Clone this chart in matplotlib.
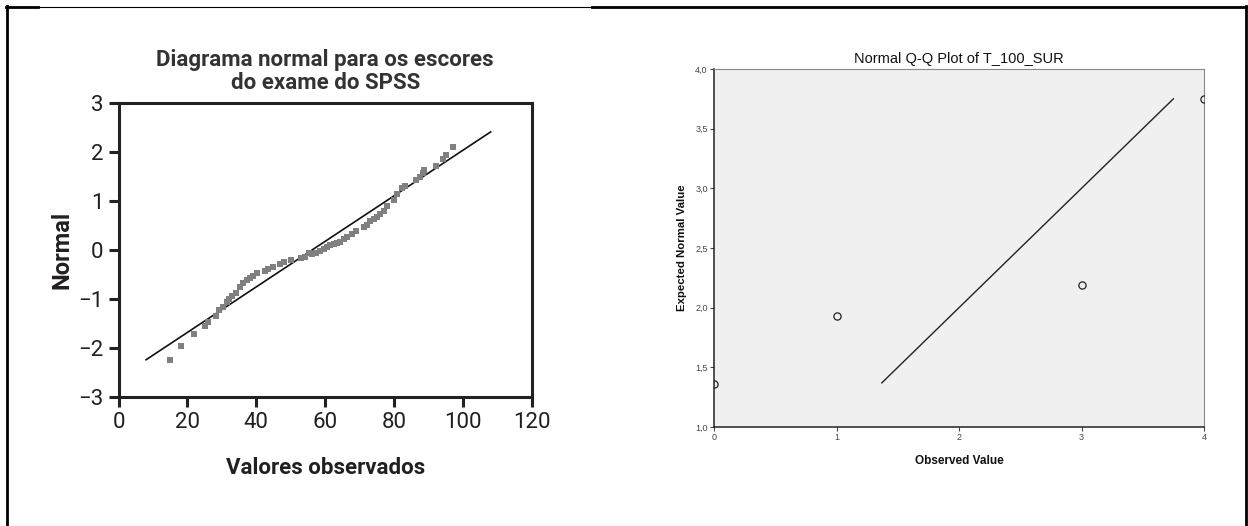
import matplotlib
matplotlib.use("Agg")
import matplotlib.pyplot as plt
from matplotlib.lines import Line2D

# ---------------- data: left panel (textbook normal plot) ----------------
obs_left = [14.9, 18.0, 22.0, 25.1, 26.0, 28.3, 29.2, 30.2, 31.4, 32.1, 32.9, 34.1,
            35.2, 36.2, 37.2, 38.1, 39.1, 40.1, 42.6, 43.5, 44.7, 47.0, 48.0, 50.2,
            53.1, 54.1, 55.2, 56.2, 57.2, 58.4, 59.6, 60.5, 61.5, 62.5, 63.4, 64.4,
            65.4, 66.3, 67.9, 69.0, 71.2, 72.1, 73.1, 74.1, 75.0, 76.0, 77.0, 77.9,
            79.9, 80.8, 82.2, 83.1, 86.2, 87.4, 88.3, 88.8, 92.0, 94.1, 94.9, 97.0]
norm_left = [-2.24, -1.96, -1.71, -1.55, -1.47, -1.35, -1.23, -1.16, -1.06, -0.99, -0.93, -0.87,
             -0.75, -0.67, -0.62, -0.58, -0.53, -0.46, -0.42, -0.38, -0.34, -0.28, -0.24, -0.21,
             -0.17, -0.14, -0.07, -0.09, -0.07, -0.02, 0.03, 0.06, 0.10, 0.13, 0.15, 0.17,
             0.22, 0.27, 0.32, 0.39, 0.46, 0.52, 0.59, 0.64, 0.68, 0.74, 0.80, 0.90,
             1.02, 1.15, 1.26, 1.30, 1.42, 1.50, 1.58, 1.64, 1.71, 1.85, 1.94, 2.11]
line_left_x = [8, 108]
line_left_y = [-2.24, 2.41]
xticks_left = [0, 20, 40, 60, 80, 100, 120]
yticks_left = [-3, -2, -1, 0, 1, 2, 3]
ytick_labels_left = ["\u22123", "\u22122", "\u22121", "0", "1", "2", "3"]

# ---------------- data: right panel (SPSS Q-Q plot) ----------------
obs_right = [0, 1, 3, 4]
exp_right = [1.36, 1.93, 2.19, 3.75]
line_right = [1.37, 3.75]
xticks_right = [0, 1, 2, 3, 4]
yticks_right = [1.0, 1.5, 2.0, 2.5, 3.0, 3.5, 4.0]
ytick_labels_right = ["1,0", "1,5", "2,0", "2,5", "3,0", "3,5", "4,0"]

W, H = 1248, 526
fig = plt.figure(figsize=(W / 100, H / 100), dpi=100)
fig.patch.set_facecolor("white")

def fx(px):
    return px / W

def fy(py):
    return 1 - py / H

narrow = ["Liberation Sans Narrow", "Roboto", "DejaVu Sans"]
arial = ["Liberation Sans", "DejaVu Sans"]
dark = "#231f20"

# ---------------- left panel ----------------
axL = fig.add_axes([fx(118.5), fy(397), fx(532) - fx(118.5), fy(103) - fy(397)])
axL.plot(line_left_x, line_left_y, color="#111111", lw=1.2, zorder=2)
axL.plot(obs_left, norm_left, linestyle="none", marker="s", markersize=4.6,
         color="#808080", markeredgewidth=0, zorder=3)
axL.set_xlim(0, 120)
axL.set_ylim(-3, 3)
axL.set_xticks(xticks_left)
axL.set_yticks(yticks_left)
axL.set_yticklabels(ytick_labels_left)
for s in axL.spines.values():
    s.set_linewidth(2.2)
    s.set_color("#222222")
axL.tick_params(direction="out", length=7, width=2.2, color="#222222",
                labelsize=16, labelcolor=dark, pad=4)
for lab in axL.get_xticklabels() + axL.get_yticklabels():
    lab.set_family(narrow)
axL.set_title("Diagrama normal para os escores\ndo exame do SPSS", fontsize=16,
              fontweight="bold", color="#333333", family=narrow, pad=10, linespacing=1.05)
axL.set_xlabel("Valores observados", fontsize=16, fontweight="bold", color=dark,
               family=narrow, labelpad=17)
axL.set_ylabel("Normal", fontsize=17, fontweight="bold", color=dark,
               family=narrow, labelpad=3)

# ---------------- right panel ----------------
axR = fig.add_axes([fx(714), fy(427), fx(1204) - fx(714), fy(69) - fy(427)])
axR.set_facecolor("#f0f0f0")
axR.plot(line_right, line_right, color="#222222", lw=1.0, zorder=2)
axR.plot(obs_right, exp_right, linestyle="none", marker="o", markersize=5.2,
         markerfacecolor="none", markeredgecolor="#222222", markeredgewidth=0.9, zorder=3)
axR.set_xlim(0, 4)
axR.set_ylim(1.0, 4.0)
axR.set_xticks(xticks_right)
axR.set_yticks(yticks_right)
axR.set_yticklabels(ytick_labels_right)
axR.spines["left"].set_color("#222222")
axR.spines["bottom"].set_color("#222222")
axR.spines["left"].set_linewidth(1.1)
axR.spines["bottom"].set_linewidth(1.1)
axR.spines["top"].set_color("#888888")
axR.spines["right"].set_color("#888888")
axR.spines["top"].set_linewidth(0.8)
axR.spines["right"].set_linewidth(0.8)
axR.tick_params(direction="out", length=3, width=0.8, color="#444444",
                labelsize=6.5, labelcolor="#444444", pad=1.5)
for lab in axR.get_xticklabels() + axR.get_yticklabels():
    lab.set_family(arial)
axR.set_title("Normal Q-Q Plot of T_100_SUR", fontsize=10.5, color="#111111",
              family=arial, pad=4)
axR.set_xlabel("Observed Value", fontsize=8.5, fontweight="bold", color="#111111",
               family=arial, labelpad=9)
axR.set_ylabel("Expected Normal Value", fontsize=8.2, fontweight="bold", color="#111111",
               family=arial, labelpad=6)

# ---------------- page borders ----------------
thick = 2.0
thin = 0.8
fig.add_artist(Line2D([fx(7), fx(7)], [fy(6), fy(526)], color="black", lw=thick))
fig.add_artist(Line2D([fx(6), fx(38)], [fy(6.5), fy(6.5)], color="black", lw=thick))
fig.add_artist(Line2D([fx(38), fx(592)], [fy(6.5), fy(6.5)], color="black", lw=thin))
fig.add_artist(Line2D([fx(592), fx(1247)], [fy(6.5), fy(6.5)], color="black", lw=thick))
fig.add_artist(Line2D([fx(1246), fx(1246)], [fy(6), fy(526)], color="black", lw=thick))

fig.savefig("out.png", dpi=100, facecolor="white")
